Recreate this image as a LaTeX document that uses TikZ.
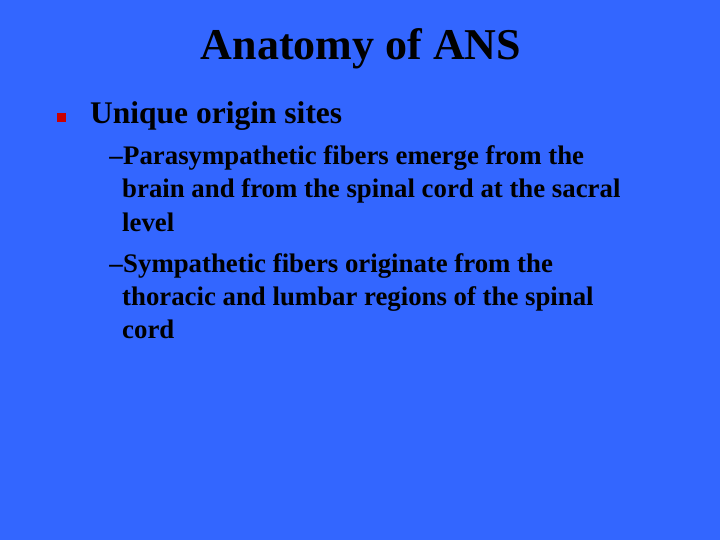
\documentclass[tikz,border=0pt]{standalone}
\usepackage{fontspec}
\setmainfont{Liberation Serif}
\begin{document}
\begin{tikzpicture}[x=1pt,y=-1pt,
  txt/.style={anchor=base west,inner sep=0pt,text=black,font=\bfseries\fontsize{26.8}{33}\selectfont}]
\fill[fill={rgb,255:red,51;green,102;blue,255}] (0,0) rectangle (720,540);
\useasboundingbox (0,0) rectangle (720,540);
\node[anchor=base,inner sep=0pt,font=\bfseries\fontsize{44}{50}\selectfont] (title) at (361,60) {Anatomy of ANS};
\node[fill={rgb,255:red,204;green,0;blue,0},minimum size=9pt,inner sep=0pt] (bul) at (61.5,118) {};
\node[txt,font=\bfseries\fontsize{31.5}{36}\selectfont] (l1) at (90,124) {Unique origin sites};
\node[txt,anchor=base east] (a0) at (123,165) {– };
\node[txt] (a1) at (123,165) {Parasympathetic fibers emerge from the};
\node[txt] (a2) at (122,198) {brain and from the spinal cord at the sacral};
\node[txt] (a3) at (122,231) {level};
\node[txt,anchor=base east] (b0) at (123,272) {– };
\node[txt] (b1) at (123,272) {Sympathetic fibers originate from the};
\node[txt] (b2) at (122,305) {thoracic and lumbar regions of the spinal};
\node[txt] (b3) at (122,338) {cord};
\end{tikzpicture}
\end{document}
